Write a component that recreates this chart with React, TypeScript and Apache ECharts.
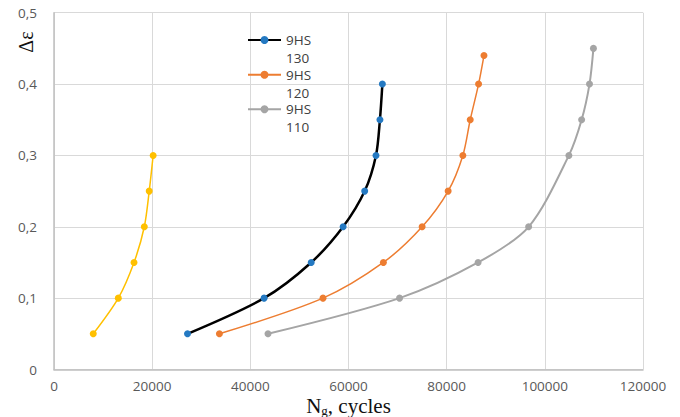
import React, { useEffect, useRef } from 'react';
import * as echarts from 'echarts';

const xMin = 0;
const xMax = 120000;
const xStep = 20000;
const yMin = 0;
const yMax = 0.5;
const yStep = 0.1;

const yellowX = [8000, 13100, 16300, 18400, 19400, 20200];
const yellowY = [0.05, 0.1, 0.15, 0.2, 0.25, 0.3];

const hs130X = [27200, 42800, 52400, 58900, 63300, 65600, 66400, 66900];
const hs130Y = [0.05, 0.1, 0.15, 0.2, 0.25, 0.3, 0.35, 0.4];

const hs120X = [33700, 54800, 67100, 75000, 80300, 83300, 84800, 86500, 87600];
const hs120Y = [0.05, 0.1, 0.15, 0.2, 0.25, 0.3, 0.35, 0.4, 0.44];

const hs110X = [43600, 70400, 86400, 96700, 104900, 107500, 109100, 109900];
const hs110Y = [0.05, 0.1, 0.15, 0.2, 0.3, 0.35, 0.4, 0.45];

const seriesNames = ['9HS 130', '9HS 120', '9HS 110'];

const zip = (xs: number[], ys: number[]) => xs.map((x, i) => [x, ys[i]]);

const FONT = 'Open Sans';
const SERIF = 'Liberation Serif';

export default function App() {
  const ref = useRef<HTMLDivElement>(null);
  useEffect(() => {
    if (!ref.current) return;
    const chart = echarts.init(ref.current, null, { renderer: 'svg' });
    const legendTops = [13, 47.7, 82.3];
    const legends = seriesNames.map((n, i) => ({
      data: [n],
      left: 247,
      top: legendTops[i],
      padding: 0,
      orient: 'vertical',
      itemWidth: 33,
      itemHeight: 10,
      selectedMode: false,
      formatter: (name: string) => '\n' + name.replace(' ', '\n'),
      textStyle: {
        fontFamily: FONT,
        fontSize: 13.5,
        color: '#404040',
        lineHeight: 18,
      },
    }));
    chart.setOption({
      animation: false,
      backgroundColor: '#ffffff',
      grid: {
        left: 54,
        right: 37,
        top: 12.7,
        bottom: 47.5,
        containLabel: false,
        outerBoundsMode: 'none',
      },
      legend: legends,
      graphic: [
        {
          type: 'text',
          x: 26,
          y: 42,
          rotation: Math.PI / 2,
          style: {
            text: 'Δε',
            font: `20px "${SERIF}"`,
            fill: '#111',
            align: 'center',
            verticalAlign: 'middle',
          },
        },
      ],
      xAxis: {
        type: 'value',
        min: xMin,
        max: xMax,
        interval: xStep,
        name: '{n|N}{s|g}{n|, cycles}',
        nameLocation: 'middle',
        nameGap: 25,
        nameMoveOverlap: false,
        nameTextStyle: {
          verticalAlign: 'top',
          rich: {
            n: { fontFamily: SERIF, fontSize: 21, color: '#111' },
            s: { fontFamily: SERIF, fontSize: 13, color: '#111', padding: [9, 0, 0, 0] },
          },
        },
        axisLine: { show: true, lineStyle: { color: '#BFBFBF', width: 1.5 } },
        axisTick: { show: false },
        axisLabel: {
          fontFamily: FONT,
          fontSize: 13.5,
          color: '#595959',
          margin: 9,
          formatter: (v: number) => String(v),
        },
        splitLine: { show: true, lineStyle: { color: '#D9D9D9', width: 1 } },
      },
      yAxis: {
        type: 'value',
        min: yMin,
        max: yMax,
        interval: yStep,
        axisLine: { show: true, lineStyle: { color: '#BFBFBF', width: 1.5 } },
        axisTick: { show: false },
        axisLabel: {
          fontFamily: FONT,
          fontSize: 13.5,
          color: '#595959',
          margin: 17,
          formatter: (v: number) => (v === 0 ? '0' : String(Math.round(v * 10) / 10).replace('.', ',')),
        },
        splitLine: { show: true, lineStyle: { color: '#D9D9D9', width: 1 } },
      },
      series: [
        {
          name: 'yellow',
          type: 'line',
          data: zip(yellowX, yellowY),
          smooth: 0.3,
          symbol: 'circle',
          symbolSize: 7,
          lineStyle: { color: '#FFC000', width: 1.5 },
          itemStyle: { color: '#FFC000' },
        },
        {
          name: seriesNames[0],
          type: 'line',
          data: zip(hs130X, hs130Y),
          smooth: 0.3,
          symbol: 'circle',
          symbolSize: 7,
          lineStyle: { color: '#000000', width: 2.5 },
          itemStyle: { color: '#2479C2' },
        },
        {
          name: seriesNames[1],
          type: 'line',
          data: zip(hs120X, hs120Y),
          smooth: 0.3,
          symbol: 'circle',
          symbolSize: 7,
          lineStyle: { color: '#ED7D31', width: 1.5 },
          itemStyle: { color: '#ED7D31' },
        },
        {
          name: seriesNames[2],
          type: 'line',
          data: zip(hs110X, hs110Y),
          smooth: 0.3,
          symbol: 'circle',
          symbolSize: 7,
          lineStyle: { color: '#A5A5A5', width: 2 },
          itemStyle: { color: '#A5A5A5' },
        },
      ],
    });
    return () => chart.dispose();
  }, []);
  return (
    <div
      ref={ref}
      style={{ position: 'fixed', left: 0, top: 0, width: 680, height: 417 }}
    />
  );
}
